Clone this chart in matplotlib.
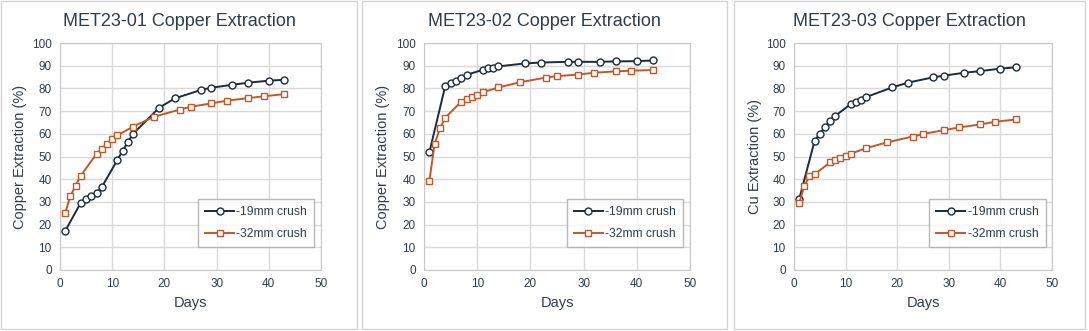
"""
Column leach copper extraction curves for the MET23 test series,
-19mm vs -32mm crush, one panel per column test.
"""

import matplotlib.pyplot as plt
from matplotlib.patches import Rectangle

plt.rcParams['font.family'] = ['Liberation Sans', 'DejaVu Sans']

# --- leach data (days, % Cu extracted) ---
days_19 = [1, 4, 5, 6, 7, 8, 11, 12, 13, 14, 19, 22, 27, 29, 33, 36, 40, 43]
days_32 = [1, 2, 3, 4, 7, 8, 9, 10, 11, 14, 18, 23, 25, 29, 32, 36, 39, 43]

met01_19 = [17.2, 29.7, 31.2, 32.4, 33.8, 36.5, 48.5, 52.6, 56.3, 60.0,
            71.5, 75.6, 79.3, 80.3, 81.6, 82.5, 83.4, 83.8]
met01_32 = [25.3, 32.6, 37.2, 41.6, 51.2, 53.5, 55.6, 57.6, 59.3, 63.2,
            67.5, 70.7, 71.9, 73.4, 74.6, 75.7, 76.5, 77.5]

met02_19 = [51.8, 81.1, 82.3, 83.3, 84.4, 86.0, 88.1, 88.8, 89.2, 89.7,
            91.0, 91.4, 91.7, 91.7, 91.7, 91.9, 92.0, 92.3]
met02_32 = [39.1, 55.6, 62.4, 67.1, 74.2, 75.4, 76.3, 77.0, 78.3, 80.4,
            82.7, 84.8, 85.4, 86.1, 86.9, 87.5, 87.8, 88.1]

met03_19 = [31.2, 56.9, 60.1, 62.9, 65.7, 67.9, 73.1, 74.1, 75.1, 76.2,
            80.4, 82.5, 84.9, 85.6, 86.9, 87.6, 88.7, 89.3]
met03_32 = [29.3, 37.2, 41.2, 42.2, 47.4, 48.4, 49.4, 50.4, 51.2, 53.7,
            56.2, 58.8, 59.9, 61.6, 62.8, 64.1, 65.3, 66.3]

titles = ['MET23-01 Copper Extraction', 'MET23-02 Copper Extraction',
          'MET23-03 Copper Extraction']
ylabels = ['Copper Extraction (%)', 'Copper Extraction (%)', 'Cu Extraction (%)']
series_19 = [met01_19, met02_19, met03_19]
series_32 = [met01_32, met02_32, met03_32]

NAVY = '#1c2b39'
ORANGE = '#c4572a'
TEXT = '#2f3d4b'
GRID = '#d9d9d9'

W, H = 1089, 331
fig = plt.figure(figsize=(W / 100, H / 100), dpi=100)

# pixel layout: chart frame (x0, x1) and plot area (x0, x1), y shared
frames = [(1, 357), (362, 727), (734, 1085)]
plots = [(60, 321), (424, 690), (794, 1052)]
frame_top, frame_bot = 1, 329
plot_top, plot_bot = 43, 270

for i in range(3):
    fx0, fx1 = frames[i]
    fig.patches.append(Rectangle((fx0 / W, 1 - frame_bot / H), (fx1 - fx0) / W,
                                 (frame_bot - frame_top) / H, transform=fig.transFigure,
                                 facecolor='white', edgecolor='#d4d4d4', linewidth=1.0,
                                 zorder=-5))
    fig.text((fx0 + fx1) / 2 / W, 1 - 21 / H, titles[i], ha='center', va='center',
             fontsize=13, color=TEXT)

    px0, px1 = plots[i]
    ax = fig.add_axes([px0 / W, 1 - plot_bot / H, (px1 - px0) / W, (plot_bot - plot_top) / H])

    ax.plot(days_19, series_19[i], color=NAVY, lw=1.4, marker='o', ms=5,
            mfc='white', mec=NAVY, mew=1.0, label='-19mm crush', zorder=3)
    ax.plot(days_32, series_32[i], color=ORANGE, lw=1.4, marker='s', ms=5,
            mfc='white', mec=ORANGE, mew=1.0, label='-32mm crush', zorder=3)

    ax.set_xlim(0, 50)
    ax.set_ylim(0, 100)
    ax.set_xticks(range(0, 51, 10))
    ax.set_yticks(range(0, 101, 10))
    ax.grid(True, color=GRID, lw=1.0)
    ax.set_axisbelow(True)
    for s in ax.spines.values():
        s.set_color('#c8c8c8')
    ax.tick_params(length=0, labelsize=8.5, labelcolor=TEXT, pad=6)

    ax.set_xlabel('Days', fontsize=10.5, color=TEXT, va='center')
    ax.xaxis.set_label_coords(0.5, -0.145)
    ax.set_ylabel(ylabels[i], fontsize=10.5, color=TEXT, va='center')
    ax.yaxis.set_label_coords(-0.153, 0.5)

    leg = ax.legend(loc='lower right', bbox_to_anchor=(0.975, 0.10), fontsize=8.7,
                    frameon=True, fancybox=False, handlelength=2.4, handletextpad=0.2,
                    borderpad=0.6, labelspacing=0.85, borderaxespad=0)
    leg.get_frame().set_edgecolor('#a6a6a6')
    leg.get_frame().set_linewidth(1.0)
    for t in leg.get_texts():
        t.set_color(TEXT)

fig.savefig('out.png', dpi=100)
